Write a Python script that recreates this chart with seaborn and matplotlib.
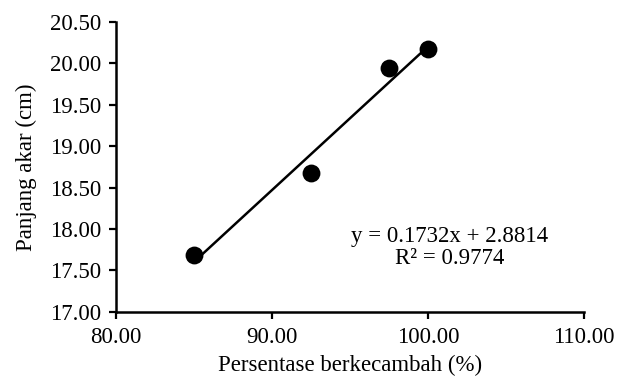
import numpy as np
import pandas as pd
import matplotlib
matplotlib.use("Agg")
import matplotlib.pyplot as plt
from matplotlib.ticker import FormatStrFormatter
import seaborn as sns

# data
germination = [85.0, 92.5, 97.5, 100.0]
root_length = [17.69, 18.68, 19.95, 20.17]
equation_text = "y = 0.1732x + 2.8814\nR² = 0.9774"

df = pd.DataFrame({"germ": germination, "root": root_length})

sns.set_style("ticks")
plt.rcParams["font.family"] = ["Liberation Serif", "DejaVu Serif"]

fig = plt.figure(figsize=(6.32, 3.79), dpi=100)
ax = fig.add_axes([0.184, 0.177, 0.740, 0.765])

sns.regplot(data=df, x="germ", y="root", ax=ax, ci=None, truncate=True,
            scatter_kws={"s": 165, "color": "black", "alpha": 1, "linewidths": 0, "zorder": 3},
            line_kws={"color": "black", "lw": 1.8})

ax.set_xlim(80, 110)
ax.set_ylim(17.0, 20.5)
ax.set_xticks(np.arange(80, 111, 10))
ax.set_yticks(np.arange(17.0, 20.51, 0.5))
ax.xaxis.set_major_formatter(FormatStrFormatter("%.2f"))
ax.yaxis.set_major_formatter(FormatStrFormatter("%.2f"))
ax.tick_params(axis="both", labelsize=16.5, width=1.6, length=5, pad=6,
               color="black", labelcolor="black")

for side in ["top", "right"]:
    ax.spines[side].set_visible(False)
for side in ["left", "bottom"]:
    ax.spines[side].set_linewidth(1.8)
    ax.spines[side].set_color("black")

ax.set_xlabel("Persentase berkecambah (%)", fontsize=16.5, color="black", labelpad=5)
ax.set_ylabel("Panjang akar (cm)", fontsize=16.5, color="black", labelpad=9)

ax.text(101.4, 17.78, equation_text, ha="center", va="center",
        fontsize=16.5, color="black", linespacing=1.1)

fig.savefig("out.png", dpi=100)
